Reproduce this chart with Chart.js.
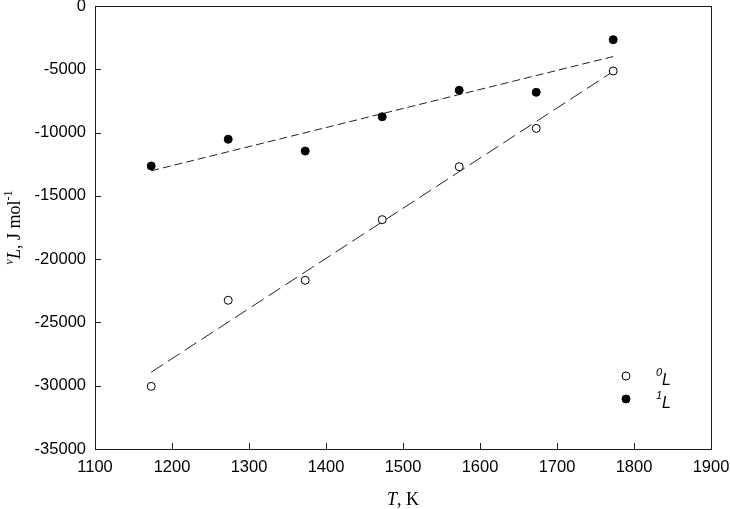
<!DOCTYPE html>
<html>
<head>
<meta charset="utf-8">
<script src="https://cdn.jsdelivr.net/npm/chart.js@4"></script>
<style>
  body { margin: 0; background: #fff; }
  #wrap { width: 730px; height: 509px; }
</style>
</head>
<body>
<div id="wrap"><canvas id="chart" width="730" height="509"></canvas></div>
<script>
// data
var temps = [1173, 1273, 1373, 1473, 1573, 1673, 1773];
var zeroL = [-30050, -23250, -21670, -16880, -12700, -9670, -5135];
var oneL = [-12640, -10530, -11460, -8750, -6660, -6820, -2660];
// linear fits (end points)
var fitT = [1173, 1773];
var fitZero = [-28930, -5170];
var fitOne = [-13020, -3990];

var xRange = [1100, 1900, 100];
var yRange = [-35000, 0, 5000];

var toPoints = function (xs, ys) {
    return xs.map(function (x, i) { return { x: x, y: ys[i] }; });
};

var ink = '#1a1a1a';

// frame, inward ticks, axis titles and legend
var decor = {
    id: 'decor',
    afterDraw: function (chart) {
        var ctx = chart.ctx;
        var a = chart.chartArea;
        var xs = chart.scales.x, ys = chart.scales.y;
        ctx.save();
        ctx.strokeStyle = ink;
        ctx.lineWidth = 1;
        ctx.strokeRect(Math.round(a.left) + 0.5, Math.round(a.top) + 0.5,
            Math.round(a.right - a.left), Math.round(a.bottom - a.top));

        ctx.beginPath();
        for (var v = xRange[0]; v <= xRange[1]; v += xRange[2]) {
            var px = Math.round(xs.getPixelForValue(v)) + 0.5;
            ctx.moveTo(px, a.bottom);
            ctx.lineTo(px, a.bottom - 6);
        }
        for (var w = yRange[0]; w <= yRange[1]; w += yRange[2]) {
            var py = Math.round(ys.getPixelForValue(w)) + 0.5;
            ctx.moveTo(a.left, py);
            ctx.lineTo(a.left + 6, py);
        }
        ctx.stroke();

        // x title: T, K
        ctx.fillStyle = '#000';
        ctx.textBaseline = 'alphabetic';
        var f1 = 'italic 18px "Liberation Serif"', f2 = '18px "Liberation Serif"';
        ctx.font = f1; var wT = ctx.measureText('T').width;
        ctx.font = f2; var wK = ctx.measureText(', K').width;
        var cx = (a.left + a.right) / 2 - (wT + wK) / 2;
        ctx.font = f1; ctx.fillText('T', cx, 505);
        ctx.font = f2; ctx.fillText(', K', cx + wT, 505);

        // y title: vL, J mol-1
        ctx.save();
        ctx.translate(20, (a.top + a.bottom) / 2);
        ctx.rotate(-Math.PI / 2);
        var parts = [
            { t: 'ν', f: 'italic 12px "Liberation Serif"', dy: -7 },
            { t: 'L', f: 'italic 18px "Liberation Serif"', dy: 0 },
            { t: ', J mol', f: '18px "Liberation Serif"', dy: 0 },
            { t: '-1', f: '12px "Liberation Serif"', dy: -8 }
        ];
        var total = 0;
        parts.forEach(function (p) { ctx.font = p.f; p.w = ctx.measureText(p.t).width; total += p.w; });
        var px0 = -total / 2;
        parts.forEach(function (p) {
            ctx.font = p.f;
            ctx.fillText(p.t, px0, p.dy);
            px0 += p.w;
        });
        ctx.restore();

        // legend
        var rows = [
            { y: 376, fill: '#fff', sup: '0' },
            { y: 399, fill: '#000', sup: '1' }
        ];
        rows.forEach(function (r) {
            ctx.beginPath();
            ctx.arc(626, r.y, 4, 0, Math.PI * 2);
            ctx.fillStyle = r.fill;
            ctx.fill();
            ctx.strokeStyle = '#000';
            ctx.stroke();
            ctx.fillStyle = '#000';
            ctx.font = 'italic 11px "Liberation Sans"';
            ctx.fillText(r.sup, 656, r.y - 0);
            ctx.font = 'italic 16px "Liberation Sans"';
            ctx.fillText('L', 662, r.y + 9);
        });
        ctx.restore();
    }
};

var ctx = document.getElementById('chart').getContext('2d');
window.myChart = new Chart(ctx, {
    type: 'scatter',
    data: {
        datasets: [{
            label: '0L',
            data: toPoints(temps, zeroL),
            pointRadius: 4,
            pointHoverRadius: 4,
            pointBackgroundColor: '#fff',
            pointBorderColor: '#000',
            pointBorderWidth: 1
        }, {
            label: '1L',
            data: toPoints(temps, oneL),
            pointRadius: 4,
            pointHoverRadius: 4,
            pointBackgroundColor: '#000',
            pointBorderColor: '#000',
            pointBorderWidth: 1
        }, {
            label: 'fit 0L',
            data: toPoints(fitT, fitZero),
            showLine: true,
            pointRadius: 0,
            borderColor: '#222',
            borderWidth: 1,
            borderDash: [14, 6]
        }, {
            label: 'fit 1L',
            data: toPoints(fitT, fitOne),
            showLine: true,
            pointRadius: 0,
            borderColor: '#222',
            borderWidth: 1,
            borderDash: [8, 4]
        }]
    },
    options: {
        responsive: false,
        animation: false,
        devicePixelRatio: 1,
        layout: { padding: { left: 0, right: 19, top: 6, bottom: 0 } },
        plugins: {
            legend: { display: false },
            tooltip: { enabled: false }
        },
        scales: {
            x: {
                type: 'linear',
                min: xRange[0],
                max: xRange[1],
                grid: { display: false, drawTicks: false },
                border: { display: false },
                ticks: {
                    stepSize: xRange[2],
                    color: '#000',
                    padding: 9,
                    maxRotation: 0,
                    font: { family: 'Liberation Sans', size: 16.5 },
                    callback: function (v) { return String(v); }
                },
                afterFit: function (scale) {
                    scale.height = 60;
                    scale.paddingLeft = 0;
                    scale.paddingRight = 0;
                }
            },
            y: {
                min: yRange[0],
                max: yRange[1],
                grid: { display: false, drawTicks: false },
                border: { display: false },
                ticks: {
                    stepSize: yRange[2],
                    color: '#000',
                    padding: 9,
                    font: { family: 'Liberation Sans', size: 16.5 },
                    callback: function (v) { return String(v); }
                },
                afterFit: function (scale) {
                    scale.width = 95;
                    scale.paddingTop = 0;
                    scale.paddingBottom = 0;
                }
            }
        }
    },
    plugins: [decor]
});
</script>
</body>
</html>
